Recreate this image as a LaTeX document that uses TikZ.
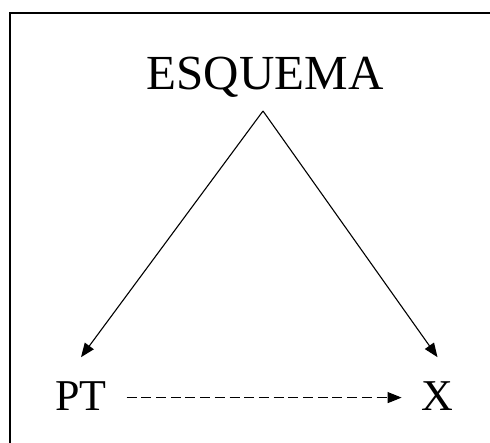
\documentclass[tikz,border=0pt]{standalone}
\usepackage{fontspec}
\setmainfont{Liberation Serif}
\usetikzlibrary{arrows.meta,calc}

\begin{document}
\begin{tikzpicture}[x=1pt, y=1pt, >={Triangle[length=14pt, width=11pt]},
  word/.style={inner sep=0pt, anchor=base, font=\fontsize{#1}{#1}\selectfont},
  word/.default=44,
  link/.style={->, line width=1.1pt, black},
  frame/.style={line width=2.4pt, black}]
  \useasboundingbox (0,0) rectangle (490,-443);
  % open frame: left and top sides only
  \draw[frame] (10,-443) |- (490,-13);
  \node[word=49] (esq) at (265,-90) {ESQUEMA};
  \node[word, outer xsep=20pt, outer ysep=24pt] (pt) at (81,-410) {PT};
  \node[word, outer xsep=20pt, outer ysep=24pt] (x) at (437.5,-410) {X};
  \coordinate (apex) at ($(esq.base)+(-2,-21)$);
  \draw[link] (apex) -- (pt.north);
  \draw[link] (apex) -- (x.north);
  \draw[link, dash pattern=on 10pt off 4.7pt] ([yshift=-2pt]pt.east) -- ([yshift=-2pt]x.west);
\end{tikzpicture}
\end{document}
